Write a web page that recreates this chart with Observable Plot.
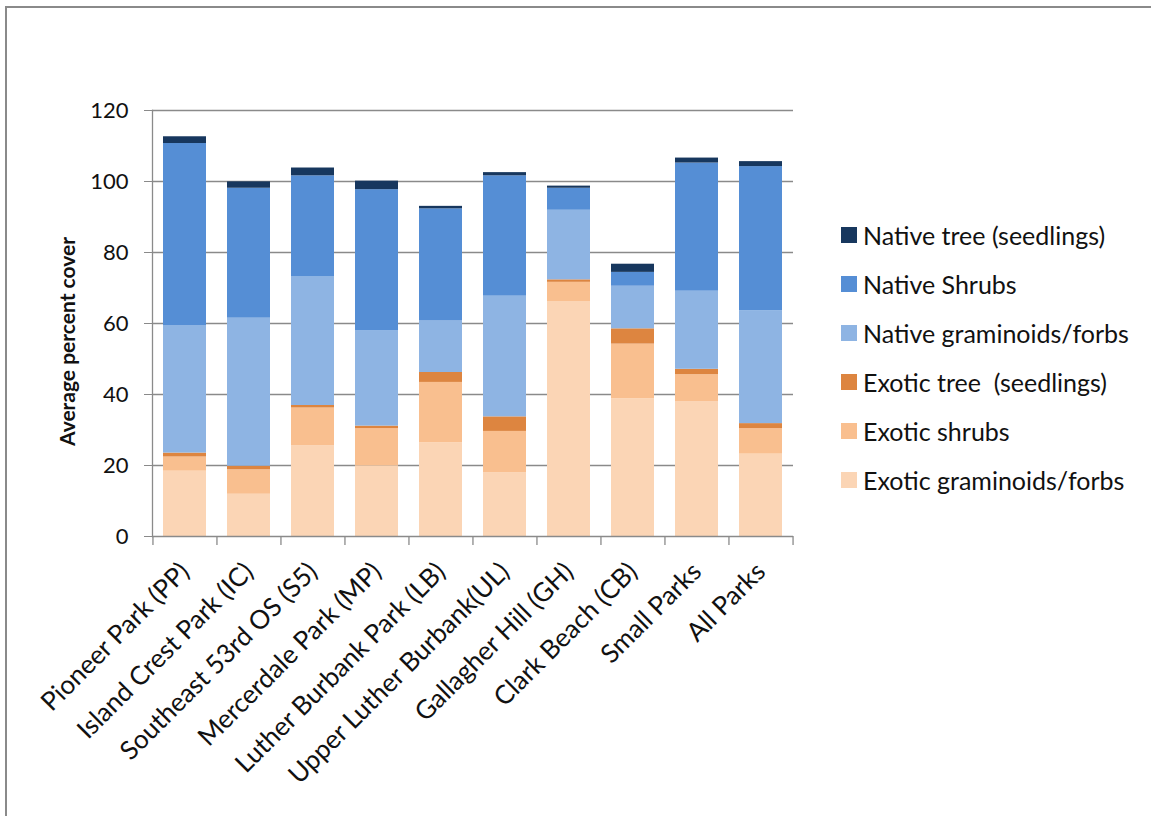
<!DOCTYPE html>
<html>
<head>
<meta charset="utf-8">
<script src="https://cdn.jsdelivr.net/npm/d3@7"></script>
<script src="https://cdn.jsdelivr.net/npm/@observablehq/plot@0.6"></script>
<style>
  html, body { margin: 0; padding: 0; background: #fff; }
  #wrap { position: relative; width: 1151px; height: 816px; overflow: hidden; font-family: Lato, "Open Sans", sans-serif; }
  #frame { position: absolute; left: 5px; top: 6px; width: 1200px; height: 900px; border-left: 2px solid #8a8a8a; border-top: 2px solid #8a8a8a; }
  #chart { position: absolute; left: 0; top: 0; }
  #legend { position: absolute; left: 841px; top: 210px; font-size: 25px; color: #111; }
  .item { display: flex; align-items: center; height: 49px; white-space: pre; }
  .sw { width: 16px; height: 16px; margin-right: 6px; flex: none; }
</style>
</head>
<body>
<div id="wrap">
  <div id="frame"></div>
  <div id="chart"></div>
  <div id="legend"></div>
</div>
<script>
const parks = ["Pioneer Park (PP)", "Island Crest Park (IC)", "Southeast 53rd OS (S5)", "Mercerdale Park (MP)", "Luther Burbank Park (LB)", "Upper Luther Burbank(UL)", "Gallagher Hill (GH)", "Clark Beach (CB)", "Small Parks", "All Parks"];
// stacking order bottom -> top
const seriesNames = ["Exotic graminoids/forbs", "Exotic shrubs", "Exotic tree  (seedlings)", "Native graminoids/forbs", "Native Shrubs", "Native tree (seedlings)"];
const seriesColors = ["#FBD5B5", "#F9BF8F", "#DD8540", "#8EB4E3", "#558ED5", "#17375E"];

const exoticGraminoids = [18.4, 11.9, 25.6, 19.9, 26.4, 18.0, 66.2, 38.8, 37.9, 23.2];
const exoticShrubs     = [4.0, 6.9, 10.6, 10.5, 17.0, 11.6, 5.4, 15.4, 7.7, 7.2];
const exoticTree       = [1.1, 1.0, 0.7, 0.7, 2.8, 4.1, 0.7, 4.3, 1.5, 1.4];
const nativeGraminoids = [35.8, 41.7, 36.2, 26.8, 14.5, 34.0, 19.6, 12.0, 22.0, 31.8];
const nativeShrubs     = [51.4, 36.6, 28.5, 39.8, 31.6, 33.9, 6.2, 3.9, 36.1, 40.6];
const nativeTree       = [1.9, 1.8, 2.2, 2.4, 0.7, 0.9, 0.6, 2.3, 1.4, 1.4];

const yTicks = [0, 20, 40, 60, 80, 100, 120];
const yTitle = "Average percent cover";

const seriesValues = [exoticGraminoids, exoticShrubs, exoticTree, nativeGraminoids, nativeShrubs, nativeTree];
const data = [];
seriesNames.forEach((s, si) => parks.forEach((p, pi) => data.push({park: p, series: s, value: seriesValues[si][pi]})));

const W = 1151, H = 816, mL = 152, mR = 358, mT = 110, mB = 280;
const step = (W - mL - mR) / parks.length;
const gray = "#8a8a8a";
const font = 'Lato, "Open Sans", sans-serif';

const chart = Plot.plot({
  width: W, height: H,
  marginLeft: mL, marginRight: mR, marginTop: mT, marginBottom: mB,
  style: {fontFamily: font, fontSize: "22px", color: "#111", background: "transparent"},
  x: {domain: parks, paddingInner: 0.33, paddingOuter: 0.165, label: null, axis: null},
  y: {domain: [0, 120], ticks: yTicks, label: null},
  color: {domain: seriesNames, range: seriesColors},
  marks: [
    Plot.ruleY(yTicks.filter(d => d > 0), {stroke: gray, strokeWidth: 1.3, strokeOpacity: 1}),
    Plot.barY(data, {x: "park", y: "value", fill: "series", order: seriesNames}),
    Plot.ruleY([0], {stroke: gray, strokeWidth: 1.3}),
    Plot.frame({anchor: "left", stroke: gray, strokeWidth: 1.3}),
    Plot.ruleX(parks, {x: d => d, y1: 0, y2: 0, insetBottom: -9, dx: -step / 2, stroke: gray, strokeWidth: 1.3}),
    Plot.ruleX([parks[parks.length - 1]], {x: d => d, y1: 0, y2: 0, insetBottom: -9, dx: step / 2, stroke: gray, strokeWidth: 1.3}),
    Plot.axisY({ticks: yTicks, tickSize: 8, tickPadding: 16, stroke: gray, fontSize: 22, label: null, tickFormat: d => d}),
    Plot.text(parks, {x: d => d, y: () => 0, dy: 31, rotate: -45, textAnchor: "end", fontSize: 26, fill: "#111"}),
    Plot.text([yTitle], {frameAnchor: "left", textAnchor: "middle", dx: -84, dy: 18, rotate: -90, fontWeight: "bold", fontSize: 21, fill: "#111"})
  ]
});
document.getElementById("chart").appendChild(chart);

const legend = document.getElementById("legend");
seriesNames.slice().reverse().forEach((s, i) => {
  const c = seriesColors[seriesNames.length - 1 - i];
  const div = document.createElement("div");
  div.className = "item";
  div.innerHTML = `<span class="sw" style="background:${c}"></span><span>${s}</span>`;
  legend.appendChild(div);
});
</script>
</body>
</html>
